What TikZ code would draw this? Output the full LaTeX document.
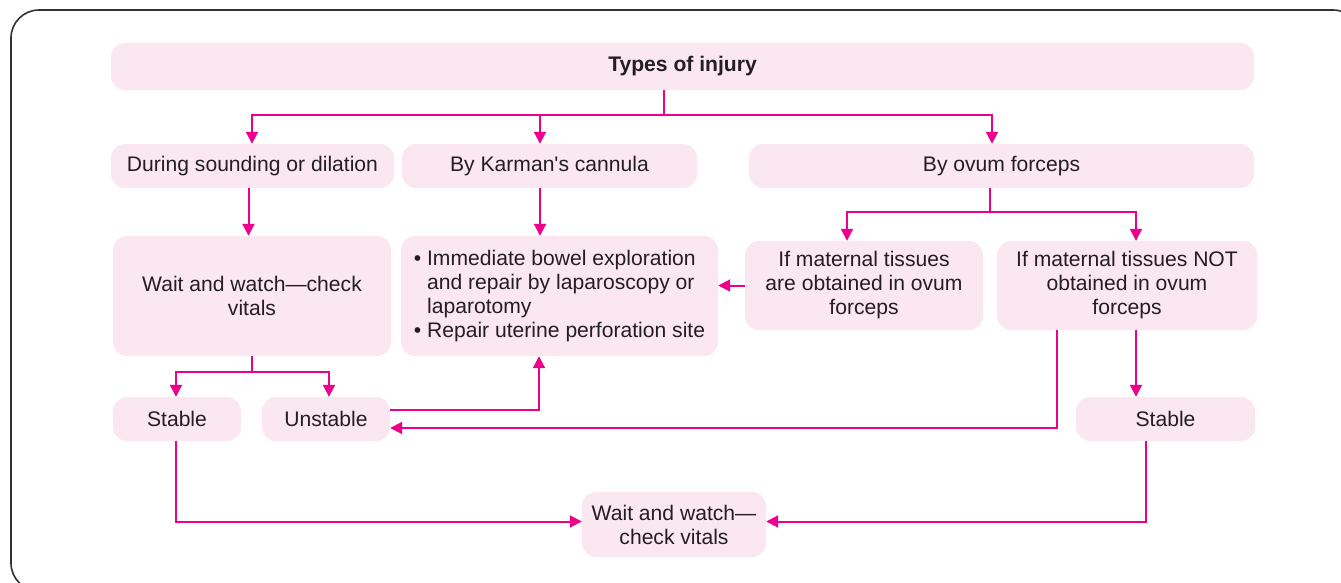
\documentclass[tikz,border=0pt]{standalone}
\usepackage{fontspec}
\newfontfamily\libsans{Liberation Sans}
\usetikzlibrary{arrows.meta,calc}
\definecolor{boxpink}{RGB}{251,231,239}
\definecolor{arrmag}{RGB}{236,0,140}
\definecolor{txt}{RGB}{35,31,32}
\definecolor{framec}{RGB}{50,50,50}
\tikzset{
  box/.style={fill=boxpink, rounded corners=14pt, inner sep=0pt, align=center,
    text=txt, font=\libsans\fontsize{21.1}{24}\selectfont},
  line/.style={draw=arrmag, line width=2pt},
  arr/.style={line, -{Triangle[width=12pt,length=12pt]}},
}
\begin{document}
\begin{tikzpicture}[x=1pt,y=-1pt]
\useasboundingbox (0,0) rectangle (1341,583);
\clip (0,0) rectangle (1341,583);
\draw[framec, line width=1.6pt, rounded corners=28pt] (11,10) rectangle (1361,591);

\node[box, minimum width=1143pt, minimum height=47pt, font=\libsans\fontsize{21.1}{24}\selectfont\bfseries] (top) at (682.5,66.5) {Types of injury};
\node[box, minimum width=283pt, minimum height=44pt] (during) at (252.5,166) {During sounding or dilation};
\node[box, minimum width=295pt, minimum height=44pt] (karman) at (549.5,166) {By Karman's cannula};
\node[box, minimum width=505pt, minimum height=44pt] (ovum) at (1001.5,166) {By ovum forceps};
\node[box, minimum width=278pt, minimum height=120pt] (waitL) at (252,296) {Wait and watch—check\\vitals};
\node[box, minimum width=317pt, minimum height=120pt, align=left] (bullet) at (559.5,296)
  {• Immediate bowel exploration\\\hphantom{• }and repair by laparoscopy or\\\hphantom{• }laparotomy\\• Repair uterine perforation site};
\node[box, minimum width=238pt, minimum height=89pt] (ifYes) at (864,285.5) {If maternal tissues\\are obtained in ovum\\forceps};
\node[box, minimum width=260pt, minimum height=89pt] (ifNo) at (1127,285.5) {If maternal tissues NOT\\obtained in ovum\\forceps};
\node[box, minimum width=128pt, minimum height=44pt] (stableL) at (177,419) {Stable};
\node[box, minimum width=128pt, minimum height=44pt] (unstable) at (326,419) {Unstable};
\node[box, minimum width=179pt, minimum height=44pt] (stableR) at (1165.5,419) {Stable};
\node[box, minimum width=184pt, minimum height=65pt] (waitB) at (674,524.5) {Wait and watch—\\check vitals};

% top level
\draw[line] ([xshift=-18.5pt]top.south) -- ++(0,25) coordinate (j1);
\draw[arr] (j1) -| ([xshift=-0.5pt]during.north);
\draw[arr] (j1) -| ([xshift=-9.5pt]karman.north);
\draw[arr] (j1) -| ([xshift=-9.5pt]ovum.north);
% second level
\draw[arr] ([xshift=-4pt]during.south) -- ([xshift=-4pt]during.south |- waitL.north);
\draw[arr] ([xshift=-9.5pt]karman.south) -- ([xshift=-9.5pt]karman.south |- bullet.north);
\draw[line] ([xshift=-11.5pt]ovum.south) -- ++(0,24) coordinate (j2);
\draw[arr] (j2) -| ([xshift=-17pt]ifYes.north);
\draw[arr] (j2) -| ([xshift=9pt]ifNo.north);
\draw[arr] (ifYes.west) -- (ifYes.west -| bullet.east);
% third level
\draw[line] (waitL.south) -- ++(0,16) coordinate (j3);
\draw[arr] (j3) -| ([xshift=-1pt]stableL.north);
\draw[arr] (j3) -| ([xshift=3pt]unstable.north);
\draw[arr] ([yshift=9pt]unstable.east) -| ([xshift=-20.5pt]bullet.south);
\draw[arr] ([xshift=-70pt]ifNo.south) |- ([yshift=-9pt]unstable.east);
\draw[arr] ([xshift=9pt]ifNo.south) -- ([xshift=9pt]ifNo.south |- stableR.north);
% bottom
\draw[arr] ([xshift=-1pt]stableL.south) |- ([yshift=3pt]waitB.west);
\draw[arr] ([xshift=-19.5pt]stableR.south) |- ([yshift=3pt]waitB.east);
\end{tikzpicture}
\end{document}
